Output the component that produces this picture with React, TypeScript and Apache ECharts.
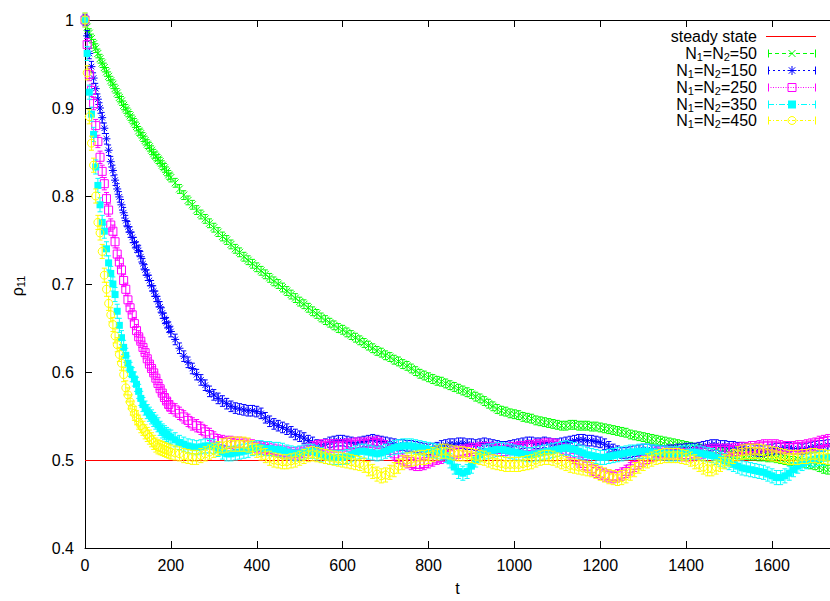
import React, { useEffect, useRef } from 'react';
import * as echarts from 'echarts';

// ---------- data ----------
const T = [
  0, 5, 10, 15, 20, 25, 30, 35, 40, 45,
  50, 55, 60, 65, 70, 75, 80, 85, 90, 95,
  100, 105, 110, 115, 120, 125, 130, 135, 140, 145,
  150, 155, 160, 165, 170, 175, 180, 185, 190, 195,
  200,
  210, 220, 230, 240, 250, 260, 270, 280, 290, 300,
  310, 320, 330, 340, 350, 360, 370, 380, 390, 400,
  410, 420, 430, 440, 450, 460, 470, 480, 490, 500,
  510, 520, 530, 540, 550, 560, 570, 580, 590, 600,
  610, 620, 630, 640, 650, 660, 670, 680, 690, 700,
  710, 720, 730, 740, 750, 760, 770, 780, 790, 800,
  810, 820, 830, 840, 850, 860, 870, 880, 890, 900,
  910, 920, 930, 940, 950, 960, 970, 980, 990, 1000,
  1010, 1020, 1030, 1040, 1050, 1060, 1070, 1080, 1090, 1100,
  1110, 1120, 1130, 1140, 1150, 1160, 1170, 1180, 1190, 1200,
  1210, 1220, 1230, 1240, 1250, 1260, 1270, 1280, 1290, 1300,
  1310, 1320, 1330, 1340, 1350, 1360, 1370, 1380, 1390, 1400,
  1410, 1420, 1430, 1440, 1450, 1460, 1470, 1480, 1490, 1500,
  1510, 1520, 1530, 1540, 1550, 1560, 1570, 1580, 1590, 1600,
  1610, 1620, 1630, 1640, 1650, 1660, 1670, 1680, 1690, 1700,
  1710, 1720, 1730,
];

const RHO_N50 = [
  1.000, 0.992, 0.985, 0.979, 0.973, 0.968, 0.962, 0.956, 0.951, 0.946,
  0.941, 0.936, 0.931, 0.927, 0.922, 0.917, 0.912, 0.908, 0.903, 0.899,
  0.895, 0.891, 0.887, 0.883, 0.879, 0.874, 0.871, 0.867, 0.863, 0.859,
  0.856, 0.852, 0.848, 0.845, 0.842, 0.839, 0.835, 0.832, 0.828, 0.824,
  0.821,
  0.815, 0.808, 0.801, 0.795, 0.790, 0.784, 0.779, 0.774, 0.769, 0.764,
  0.759, 0.754, 0.750, 0.745, 0.740, 0.736, 0.731, 0.727, 0.723, 0.719,
  0.715, 0.711, 0.707, 0.703, 0.700, 0.696, 0.692, 0.688, 0.684, 0.680,
  0.677, 0.673, 0.669, 0.666, 0.662, 0.659, 0.656, 0.653, 0.650, 0.648,
  0.645, 0.642, 0.639, 0.636, 0.633, 0.630, 0.627, 0.624, 0.622, 0.619,
  0.617, 0.614, 0.612, 0.609, 0.607, 0.604, 0.601, 0.598, 0.596, 0.594,
  0.592, 0.590, 0.589, 0.587, 0.585, 0.583, 0.581, 0.579, 0.577, 0.575,
  0.572, 0.570, 0.567, 0.564, 0.561, 0.558, 0.556, 0.555, 0.553, 0.552,
  0.551, 0.549, 0.548, 0.547, 0.545, 0.544, 0.543, 0.542, 0.541, 0.540,
  0.539, 0.539, 0.540, 0.540, 0.539, 0.539, 0.539, 0.538, 0.538, 0.537,
  0.536, 0.535, 0.534, 0.533, 0.532, 0.531, 0.529, 0.528, 0.527, 0.526,
  0.525, 0.524, 0.523, 0.522, 0.521, 0.520, 0.519, 0.518, 0.517, 0.516,
  0.515, 0.514, 0.513, 0.512, 0.512, 0.511, 0.510, 0.509, 0.509, 0.508,
  0.507, 0.507, 0.506, 0.506, 0.505, 0.505, 0.504, 0.504, 0.503, 0.503,
  0.502, 0.501, 0.500, 0.499, 0.499, 0.498, 0.497, 0.496, 0.495, 0.494,
  0.492, 0.490, 0.489,
];

const RHO_N150 = [
  1.000, 0.982, 0.962, 0.947, 0.934, 0.922, 0.910, 0.900, 0.889, 0.877,
  0.865, 0.852, 0.839, 0.829, 0.818, 0.808, 0.799, 0.790, 0.781, 0.772,
  0.765, 0.759, 0.753, 0.747, 0.742, 0.738, 0.731, 0.723, 0.716, 0.710,
  0.704, 0.698, 0.692, 0.686, 0.680, 0.674, 0.667, 0.661, 0.656, 0.651,
  0.646,
  0.637, 0.627, 0.618, 0.611, 0.604, 0.597, 0.591, 0.585, 0.578, 0.574,
  0.570, 0.567, 0.564, 0.561, 0.559, 0.558, 0.557, 0.556, 0.556, 0.555,
  0.553, 0.548, 0.544, 0.541, 0.539, 0.537, 0.535, 0.532, 0.529, 0.527,
  0.525, 0.522, 0.520, 0.517, 0.516, 0.518, 0.520, 0.521, 0.522, 0.522,
  0.521, 0.520, 0.519, 0.520, 0.521, 0.522, 0.523, 0.522, 0.521, 0.520,
  0.519, 0.518, 0.517, 0.517, 0.516, 0.516, 0.515, 0.514, 0.513, 0.512,
  0.513, 0.514, 0.516, 0.517, 0.518, 0.518, 0.519, 0.519, 0.518, 0.518,
  0.517, 0.518, 0.519, 0.518, 0.517, 0.516, 0.515, 0.515, 0.516, 0.517,
  0.518, 0.519, 0.520, 0.520, 0.519, 0.519, 0.520, 0.519, 0.518, 0.518,
  0.519, 0.520, 0.521, 0.522, 0.523, 0.523, 0.522, 0.522, 0.521, 0.520,
  0.518, 0.515, 0.512, 0.510, 0.508, 0.508, 0.509, 0.510, 0.511, 0.512,
  0.512, 0.511, 0.510, 0.510, 0.510, 0.511, 0.511, 0.512, 0.512, 0.513,
  0.513, 0.513, 0.514, 0.515, 0.516, 0.517, 0.517, 0.516, 0.516, 0.515,
  0.515, 0.514, 0.514, 0.513, 0.512, 0.511, 0.510, 0.510, 0.511, 0.512,
  0.513, 0.513, 0.514, 0.514, 0.513, 0.513, 0.512, 0.513, 0.514, 0.515,
  0.516, 0.516, 0.517,
];

const RHO_N250 = [
  1.000, 0.972, 0.938, 0.920, 0.905, 0.880, 0.862, 0.844, 0.828, 0.814,
  0.797, 0.784, 0.767, 0.760, 0.748, 0.734, 0.725, 0.716, 0.704, 0.694,
  0.682, 0.673, 0.665, 0.655, 0.647, 0.640, 0.635, 0.628, 0.622, 0.615,
  0.609, 0.604, 0.599, 0.593, 0.587, 0.581, 0.576, 0.571, 0.567, 0.563,
  0.560,
  0.557, 0.553, 0.549, 0.545, 0.541, 0.539, 0.536, 0.532, 0.529, 0.525,
  0.522, 0.521, 0.520, 0.520, 0.519, 0.519, 0.518, 0.517, 0.516, 0.515,
  0.514, 0.513, 0.512, 0.511, 0.510, 0.509, 0.508, 0.507, 0.507, 0.508,
  0.510, 0.512, 0.514, 0.515, 0.516, 0.516, 0.516, 0.516, 0.516, 0.516,
  0.517, 0.517, 0.518, 0.518, 0.518, 0.519, 0.519, 0.520, 0.518, 0.515,
  0.511, 0.507, 0.503, 0.500, 0.498, 0.496, 0.495, 0.495, 0.496, 0.498,
  0.500, 0.502, 0.503, 0.505, 0.506, 0.508, 0.509, 0.510, 0.511, 0.512,
  0.512, 0.513, 0.513, 0.513, 0.513, 0.512, 0.512, 0.512, 0.513, 0.513,
  0.514, 0.514, 0.515, 0.515, 0.516, 0.516, 0.517, 0.517, 0.517, 0.516,
  0.514, 0.511, 0.507, 0.503, 0.499, 0.496, 0.493, 0.490, 0.487, 0.485,
  0.483, 0.482, 0.481, 0.482, 0.484, 0.487, 0.490, 0.494, 0.497, 0.500,
  0.503, 0.505, 0.507, 0.508, 0.508, 0.508, 0.508, 0.507, 0.506, 0.506,
  0.506, 0.507, 0.508, 0.509, 0.510, 0.511, 0.511, 0.511, 0.511, 0.511,
  0.512, 0.512, 0.513, 0.513, 0.514, 0.514, 0.515, 0.516, 0.516, 0.516,
  0.516, 0.515, 0.514, 0.514, 0.514, 0.515, 0.515, 0.516, 0.517, 0.518,
  0.520, 0.521, 0.522,
];

const RHO_N350 = [
  1.000, 0.962, 0.918, 0.893, 0.870, 0.833, 0.812, 0.790, 0.770, 0.760,
  0.740, 0.724, 0.712, 0.700, 0.688, 0.669, 0.653, 0.639, 0.628, 0.619,
  0.610, 0.603, 0.597, 0.592, 0.586, 0.578, 0.570, 0.563, 0.559, 0.555,
  0.552, 0.549, 0.546, 0.543, 0.540, 0.536, 0.533, 0.531, 0.529, 0.527,
  0.526,
  0.523, 0.520, 0.518, 0.516, 0.515, 0.514, 0.515, 0.516, 0.516, 0.515,
  0.512, 0.509, 0.507, 0.507, 0.508, 0.509, 0.510, 0.511, 0.513, 0.514,
  0.514, 0.513, 0.513, 0.512, 0.512, 0.511, 0.509, 0.508, 0.507, 0.508,
  0.509, 0.510, 0.510, 0.508, 0.506, 0.504, 0.503, 0.503, 0.503, 0.503,
  0.504, 0.506, 0.508, 0.510, 0.510, 0.509, 0.508, 0.507, 0.508, 0.510,
  0.512, 0.514, 0.515, 0.516, 0.516, 0.516, 0.515, 0.514, 0.513, 0.512,
  0.511, 0.510, 0.508, 0.505, 0.499, 0.492, 0.487, 0.485, 0.487, 0.493,
  0.500, 0.506, 0.509, 0.510, 0.511, 0.512, 0.512, 0.511, 0.510, 0.509,
  0.508, 0.507, 0.506, 0.506, 0.507, 0.508, 0.509, 0.510, 0.511, 0.512,
  0.513, 0.514, 0.513, 0.512, 0.510, 0.508, 0.506, 0.505, 0.504, 0.503,
  0.503, 0.504, 0.505, 0.506, 0.507, 0.508, 0.509, 0.509, 0.510, 0.510,
  0.510, 0.509, 0.509, 0.508, 0.508, 0.507, 0.507, 0.507, 0.508, 0.508,
  0.509, 0.509, 0.508, 0.507, 0.506, 0.505, 0.503, 0.501, 0.499, 0.497,
  0.495, 0.493, 0.491, 0.490, 0.489, 0.488, 0.487, 0.486, 0.484, 0.482,
  0.480, 0.480, 0.482, 0.485, 0.489, 0.493, 0.496, 0.498, 0.500, 0.501,
  0.502, 0.502, 0.503,
];

const RHO_N450 = [
  1.000, 0.940, 0.890, 0.860, 0.835, 0.800, 0.770, 0.758, 0.737, 0.710,
  0.694, 0.678, 0.665, 0.654, 0.641, 0.631, 0.620, 0.610, 0.597, 0.582,
  0.574, 0.566, 0.559, 0.553, 0.548, 0.543, 0.539, 0.536, 0.532, 0.529,
  0.526, 0.523, 0.520, 0.517, 0.515, 0.514, 0.513, 0.512, 0.511, 0.510,
  0.509,
  0.508, 0.507, 0.505, 0.504, 0.503, 0.503, 0.505, 0.507, 0.509, 0.511,
  0.513, 0.516, 0.517, 0.518, 0.518, 0.518, 0.518, 0.517, 0.514, 0.511,
  0.508, 0.505, 0.502, 0.500, 0.499, 0.498, 0.498, 0.499, 0.500, 0.502,
  0.504, 0.506, 0.507, 0.506, 0.505, 0.504, 0.503, 0.502, 0.501, 0.500,
  0.499, 0.498, 0.497, 0.496, 0.494, 0.490, 0.487, 0.484, 0.482, 0.483,
  0.486, 0.489, 0.493, 0.497, 0.500, 0.501, 0.502, 0.503, 0.503, 0.504,
  0.506, 0.508, 0.510, 0.510, 0.509, 0.508, 0.507, 0.507, 0.506, 0.505,
  0.504, 0.503, 0.502, 0.500, 0.498, 0.497, 0.496, 0.495, 0.495, 0.495,
  0.495, 0.496, 0.497, 0.498, 0.500, 0.502, 0.503, 0.503, 0.502, 0.500,
  0.498, 0.496, 0.494, 0.493, 0.492, 0.491, 0.490, 0.489, 0.487, 0.485,
  0.483, 0.481, 0.480, 0.479, 0.480, 0.482, 0.485, 0.489, 0.493, 0.496,
  0.499, 0.501, 0.503, 0.504, 0.505, 0.505, 0.505, 0.505, 0.504, 0.503,
  0.501, 0.498, 0.495, 0.492, 0.490, 0.490, 0.492, 0.495, 0.498, 0.501,
  0.504, 0.507, 0.509, 0.510, 0.510, 0.510, 0.510, 0.509, 0.508, 0.507,
  0.506, 0.505, 0.504, 0.503, 0.503, 0.503, 0.504, 0.504, 0.505, 0.505,
  0.504, 0.504, 0.503,
];

// half-length of the error bars of each series
const ERROR_BAR = [0.005, 0.006, 0.007, 0.008, 0.008];

const STEADY_STATE = 0.5;
const N_VALUES = [50, 150, 250, 350, 450];
const X_TICKS = [0, 200, 400, 600, 800, 1000, 1200, 1400, 1600];
const Y_TICKS = [0.4, 0.5, 0.6, 0.7, 0.8, 0.9, 1];

// ---------- styles ----------
const FONT = '"Liberation Sans", Arial, Helvetica, sans-serif';
const X_MAX = 1735;
const LEGEND_ROW_Y = [36, 52.5, 70, 87, 103.5, 119.5];

type Meta = {
  values: number[];
  color: string;
  kind: 'x' | 'star' | 'openSquare' | 'square' | 'circle';
  dash: number[];
};

const META: Meta[] = [
  { values: RHO_N50, color: '#00ff00', kind: 'x', dash: [4, 3] },
  { values: RHO_N150, color: '#0000ff', kind: 'star', dash: [2, 3] },
  { values: RHO_N250, color: '#ff00ff', kind: 'openSquare', dash: [1, 1.5] },
  { values: RHO_N350, color: '#00ffff', kind: 'square', dash: [6, 2, 1, 2] },
  { values: RHO_N450, color: '#ffff00', kind: 'circle', dash: [3, 2, 1, 2] },
];

const SYMBOLS: Record<string, { symbol: string; size: number; filled: boolean }> = {
  x: { symbol: 'path://M0,0L10,10M10,0L0,10', size: 7, filled: false },
  star: { symbol: 'path://M5,0L5,10M0,5L10,5M1.5,1.5L8.5,8.5M8.5,1.5L1.5,8.5', size: 8, filled: false },
  openSquare: { symbol: 'path://M0,0L10,0L10,10L0,10Z', size: 8, filled: false },
  square: { symbol: 'rect', size: 7, filled: true },
  circle: { symbol: 'circle', size: 8, filled: false },
};

function legendMarker(kind: string, color: string, cx: number, cy: number): any[] {
  const st = { stroke: color, lineWidth: 1, fill: 'none' };
  if (kind === 'x') {
    return [
      { type: 'line', shape: { x1: cx - 3.5, y1: cy - 3.5, x2: cx + 3.5, y2: cy + 3.5 }, style: st },
      { type: 'line', shape: { x1: cx + 3.5, y1: cy - 3.5, x2: cx - 3.5, y2: cy + 3.5 }, style: st },
    ];
  }
  if (kind === 'star') {
    return [
      { type: 'line', shape: { x1: cx, y1: cy - 4.5, x2: cx, y2: cy + 4.5 }, style: st },
      { type: 'line', shape: { x1: cx - 4.5, y1: cy, x2: cx + 4.5, y2: cy }, style: st },
      { type: 'line', shape: { x1: cx - 3.2, y1: cy - 3.2, x2: cx + 3.2, y2: cy + 3.2 }, style: st },
      { type: 'line', shape: { x1: cx + 3.2, y1: cy - 3.2, x2: cx - 3.2, y2: cy + 3.2 }, style: st },
    ];
  }
  if (kind === 'openSquare') {
    return [{ type: 'rect', shape: { x: cx - 4, y: cy - 4, width: 8, height: 8 }, style: st }];
  }
  if (kind === 'square') {
    return [{ type: 'rect', shape: { x: cx - 4, y: cy - 4, width: 8, height: 8 }, style: { fill: color } }];
  }
  return [{ type: 'circle', shape: { cx, cy, r: 4 }, style: st }];
}

const MAIN_RICH = { fontSize: 16, fontFamily: FONT, fill: '#000', lineHeight: 18 };
const SUB_RICH = { fontSize: 11, fontFamily: FONT, fill: '#000', lineHeight: 11, verticalAlign: 'bottom' };

function buildGraphics(): any[] {
  const els: any[] = [];
  const textRight = 757;
  const x1 = 768;
  const x2 = 816;
  const y0 = LEGEND_ROW_Y[0] + 0.5;
  els.push({
    type: 'text', x: textRight, y: y0,
    style: { text: 'steady state', fill: '#000', fontSize: 16, fontFamily: FONT, align: 'right', verticalAlign: 'middle' },
  });
  els.push({ type: 'line', shape: { x1: 766, y1: y0, x2: x2, y2: y0 }, style: { stroke: '#ff0000', lineWidth: 1 } });
  META.forEach((m, i) => {
    const y = Math.round(LEGEND_ROW_Y[i + 1]) + 0.5;
    els.push({
      type: 'text', x: textRight, y,
      style: {
        text: `{n|N}{s|1}{n|=N}{s|2}{n|=${N_VALUES[i]}}`,
        rich: { n: MAIN_RICH, s: SUB_RICH },
        fontSize: 16, fontFamily: FONT, fill: '#000',
        align: 'right', verticalAlign: 'middle',
      },
    });
    els.push({ type: 'line', shape: { x1, y1: y, x2, y2: y }, style: { stroke: m.color, lineWidth: 1, lineDash: m.dash } });
    els.push({ type: 'line', shape: { x1: x1 + 0.5, y1: y - 4, x2: x1 + 0.5, y2: y + 4 }, style: { stroke: m.color, lineWidth: 1 } });
    els.push({ type: 'line', shape: { x1: x2 - 0.5, y1: y - 4, x2: x2 - 0.5, y2: y + 4 }, style: { stroke: m.color, lineWidth: 1 } });
    legendMarker(m.kind, m.color, (x1 + x2) / 2, y).forEach((e) => els.push(e));
  });
  // y axis title (rotated)
  els.push({
    type: 'text', x: 17, y: 286, rotation: Math.PI / 2,
    style: {
      text: '{a|ρ}{b|11}',
      rich: { a: MAIN_RICH, b: SUB_RICH },
      fontSize: 16, fontFamily: FONT, fill: '#000',
      align: 'center', verticalAlign: 'middle',
    },
  });
  return els;
}

export default function App() {
  const ref = useRef<HTMLDivElement>(null);
  useEffect(() => {
    if (!ref.current) return;
    const chart = echarts.init(ref.current, null, { renderer: 'svg' });
    const axisCommon = {
      axisLine: { show: true, onZero: false, lineStyle: { color: '#000', width: 1 } },
      splitLine: { show: false },
    };
    const dataSeries: any[] = [];
    META.forEach((m, i) => {
      const sym = SYMBOLS[m.kind];
      const pts = T.map((t, k) => [t, m.values[k], ERROR_BAR[i]]);
      dataSeries.push({
        type: 'custom',
        name: `err${N_VALUES[i]}`,
        data: pts,
        silent: true,
        z: 2 + 2 * i,
        renderItem: (_params: any, api: any) => {
          const x = api.value(0);
          const y = api.value(1);
          const e = api.value(2);
          const top = api.coord([x, y + e]);
          const bot = api.coord([x, y - e]);
          const c = 2.5;
          const st = { stroke: m.color, lineWidth: 1 };
          return {
            type: 'group',
            children: [
              { type: 'line', shape: { x1: top[0], y1: top[1], x2: bot[0], y2: bot[1] }, style: st },
              { type: 'line', shape: { x1: top[0] - c, y1: top[1], x2: top[0] + c, y2: top[1] }, style: st },
              { type: 'line', shape: { x1: bot[0] - c, y1: bot[1], x2: bot[0] + c, y2: bot[1] }, style: st },
            ],
          };
        },
      });
      dataSeries.push({
        type: 'scatter',
        name: `N=${N_VALUES[i]}`,
        data: pts.map((p) => [p[0], p[1]]),
        symbol: sym.symbol,
        symbolSize: sym.size,
        silent: true,
        z: 3 + 2 * i,
        itemStyle: sym.filled
          ? { color: m.color, opacity: 1 }
          : { color: 'rgba(0,0,0,0)', borderColor: m.color, borderWidth: 1, opacity: 1 },
      });
    });
    const option: any = {
      animation: false,
      backgroundColor: '#ffffff',
      grid: { left: 85, top: 20, right: 0, bottom: 50, containLabel: false },
      xAxis: [
        {
          type: 'value', min: 0, max: X_MAX, position: 'bottom',
          name: 't', nameLocation: 'middle', nameGap: 32,
          nameTextStyle: { fontSize: 16, color: '#000', fontFamily: FONT },
          ...axisCommon,
          axisTick: { show: true, inside: true, length: 7, customValues: X_TICKS, lineStyle: { color: '#000' } },
          axisLabel: {
            customValues: X_TICKS, fontSize: 16, color: '#000', fontFamily: FONT, margin: 9,
            formatter: (v: number) => String(v),
          },
        },
        {
          type: 'value', min: 0, max: X_MAX, position: 'top',
          ...axisCommon,
          axisTick: { show: true, inside: true, length: 7, customValues: X_TICKS, lineStyle: { color: '#000' } },
          axisLabel: { show: false },
        },
      ],
      yAxis: {
        type: 'value', min: 0.4, max: 1, interval: 0.1,
        ...axisCommon,
        axisTick: { show: true, inside: true, length: 7, customValues: Y_TICKS, lineStyle: { color: '#000' } },
        axisLabel: {
          customValues: Y_TICKS, fontSize: 16, color: '#000', fontFamily: FONT, margin: 11,
          formatter: (v: number) => String(Math.round(v * 10) / 10),
        },
      },
      series: [
        {
          type: 'line', name: 'steady state', data: [], z: 1, silent: true,
          markLine: {
            silent: true, symbol: ['none', 'none'], z: 1,
            label: { show: false },
            lineStyle: { color: '#ff0000', width: 1, type: 'solid' },
            data: [{ yAxis: STEADY_STATE }],
          },
        },
        ...dataSeries,
      ],
      graphic: buildGraphics(),
    };
    chart.setOption(option);
    return () => chart.dispose();
  }, []);
  return (
    <div
      ref={ref}
      style={{ position: 'absolute', left: 0, top: 0, width: 830, height: 601, background: '#fff' }}
    />
  );
}
